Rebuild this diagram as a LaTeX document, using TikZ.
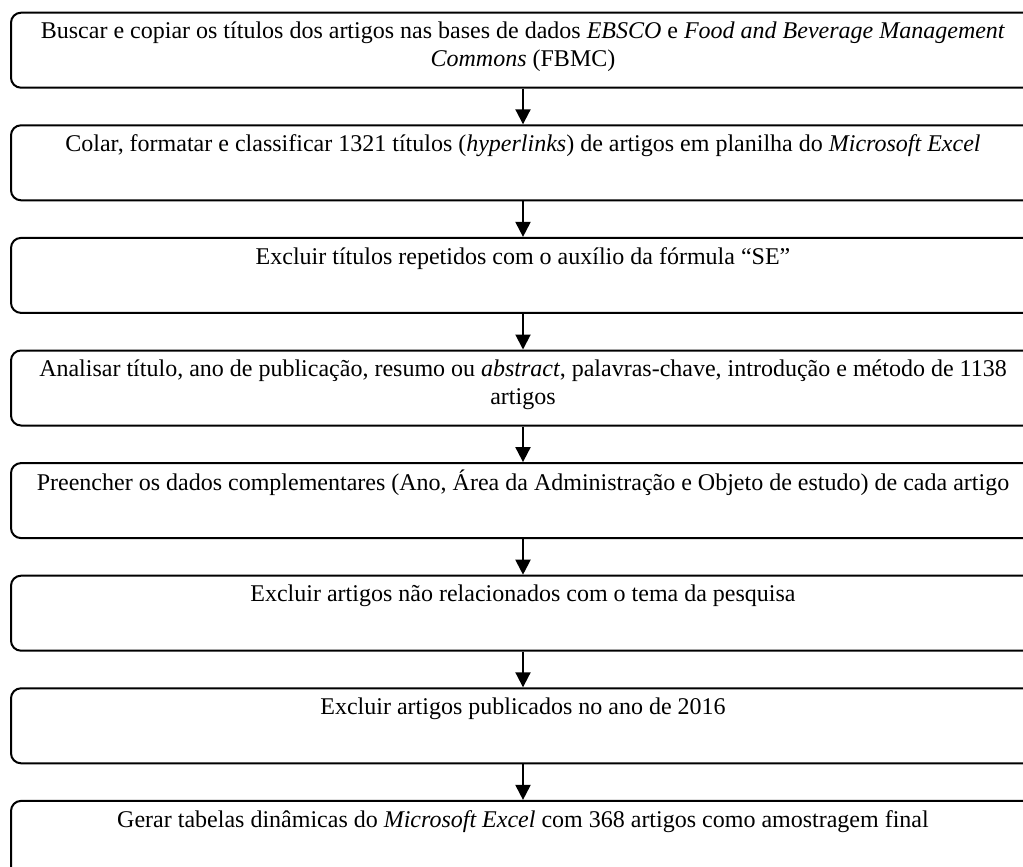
\documentclass[tikz,border=0pt]{standalone}
\usepackage{fontspec}
\setmainfont{Liberation Serif}
\usetikzlibrary{arrows.meta}
\begin{document}
\begin{tikzpicture}[x=1pt,y=-1pt,
  stepbox/.style={draw=black, line width=2pt, rounded corners=10pt, minimum width=1024pt, minimum height=75pt, anchor=north west, inner sep=0pt},
  txt/.style={anchor=north, inner sep=0pt, align=center, font=\fontsize{24}{27.6}\selectfont},
  arr/.style={line width=2pt, -{Triangle[width=15pt,length=15pt]}}]
\useasboundingbox (0,0) rectangle (1023,867);
\clip (0,0) rectangle (1023,867);
\foreach \i in {1,...,8}{
  \pgfmathsetmacro{\t}{11.7+112.6*(\i-1)}
  \node[stepbox] (b\i) at (10,\t) {};
}
\node[txt] (t1) at ([yshift=-7.7pt]b1.north) {\strut Buscar e copiar os títulos dos artigos nas bases de dados \textit{EBSCO} e \textit{Food and Beverage Management}\\\textit{Commons} (FBMC)};
\node[txt] (t2) at ([yshift=-7.7pt]b2.north) {\strut Colar, formatar e classificar 1321 títulos (\textit{hyperlinks}) de artigos em planilha do \textit{Microsoft Excel}};
\node[txt] (t3) at ([yshift=-7.7pt]b3.north) {\strut Excluir títulos repetidos com o auxílio da fórmula “SE”};
\node[txt] (t4) at ([yshift=-7.7pt]b4.north) {\strut Analisar título, ano de publicação, resumo ou \textit{abstract}, palavras-chave, introdução e método de 1138\\artigos};
\node[txt] (t5) at ([yshift=-7.7pt]b5.north) {\strut Preencher os dados complementares (Ano, Área da Administração e Objeto de estudo) de cada artigo};
\node[txt] (t6) at ([yshift=-7.7pt]b6.north) {\strut Excluir artigos não relacionados com o tema da pesquisa};
\node[txt] (t7) at ([yshift=-7.7pt]b7.north) {\strut Excluir artigos publicados no ano de 2016};
\node[txt] (t8) at ([yshift=-7.7pt]b8.north) {\strut Gerar tabelas dinâmicas do \textit{Microsoft Excel} com 368 artigos como amostragem final};
\foreach \i [evaluate=\i as \j using int(\i+1)] in {1,...,7}{
  \draw[arr] (b\i.south) -- (b\j.north);
}
\end{tikzpicture}
\end{document}
